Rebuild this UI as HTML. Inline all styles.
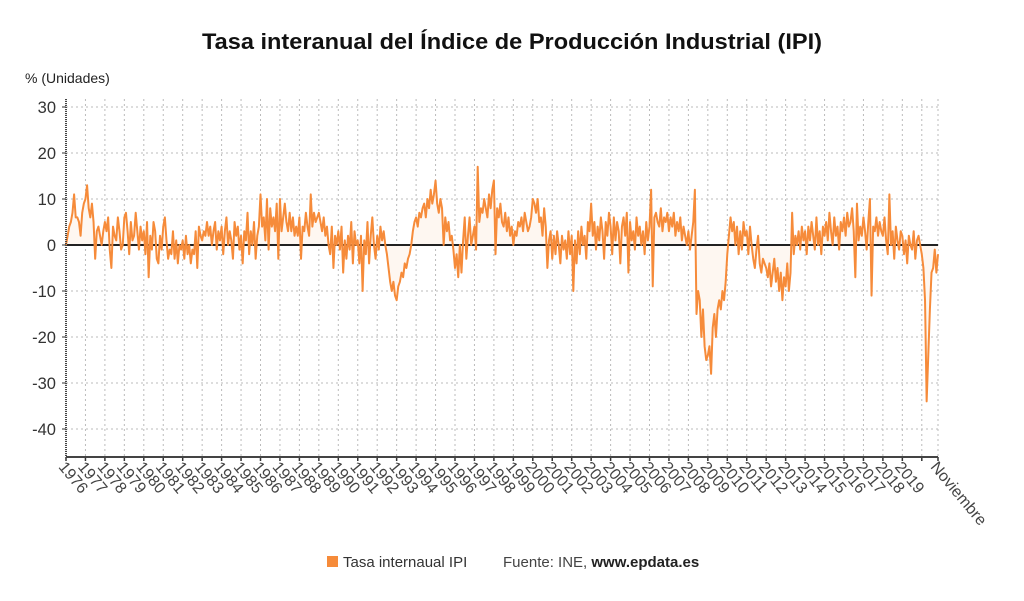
<!DOCTYPE html>
<html><head><meta charset="utf-8">
<style>
body{margin:0;background:#fff;width:1024px;height:601px;overflow:hidden;font-family:"Liberation Sans","DejaVu Sans",sans-serif;}
svg{display:block}
</style></head>
<body>
<svg id="chart" width="1024" height="601" xmlns="http://www.w3.org/2000/svg">
<text x="512" y="49" text-anchor="middle" font-size="22" font-weight="bold" fill="#111" textLength="620" lengthAdjust="spacingAndGlyphs">Tasa interanual del Índice de Producción Industrial (IPI)</text>
<text x="25" y="83" font-size="14" fill="#222">% (Unidades)</text>
<g id="grid"></g>
<g id="area"></g>
<g id="zero"></g>
<g id="series"></g>
<g id="axes"></g>
<g>
<rect x="327" y="556" width="11" height="11" fill="#f68b3a"/>
<text x="343" y="567" font-size="15" fill="#333">Tasa internaual IPI</text>
<text x="503" y="567" font-size="15" fill="#444">Fuente: INE, <tspan font-weight="bold" fill="#222">www.epdata.es</tspan></text>
</g>
</svg>
<script>
const years = [];
for (let y = 1976; y <= 2019; y++) years.push(String(y));
const endLabel = "Noviembre";
const yTicks = [30,20,10,0,-10,-20,-30,-40];
const values = [
0,2,4,5,7,11,6,6,5,2,7,9,
10,13,8,6,9,5,-3,3,4,2,0,3,
5,3,6,-1,-5,4,2,1,6,3,-1,0,
6,7,3,-2,5,1,2,7,3,-1,4,1,
3,-2,5,-7,2,-1,5,3,-3,-4,2,-1,
4,6,1,-3,-1,-2,3,-3,1,-4,0,-1,
1,-3,2,-2,0,-4,-1,-2,3,-5,4,2,
1,3,2,5,2,4,0,3,5,-1,3,1,
4,-2,3,6,0,3,1,-3,5,2,4,-1,
2,-4,3,1,7,-2,3,0,5,-3,2,4,
11,4,6,1,10,-1,8,4,6,3,9,-3,
10,3,6,9,5,3,7,3,6,2,4,2,
6,-3,4,3,7,4,2,11,4,7,5,6,
7,5,3,6,2,4,0,-2,4,-5,2,0,
3,-1,4,-6,1,-3,2,-1,5,-4,3,0,
1,-4,2,-10,1,-2,5,-4,2,6,0,-3,
2,-1,4,1,3,0,-2,-5,-8,-10,-8,-11,
-12,-9,-8,-6,-7,-4,-5,-3,-2,0,3,5,
6,4,7,6,8,9,6,10,8,12,9,11,
14,9,7,10,8,0,6,3,5,1,2,-1,
-5,-2,-7,0,-6,1,6,-3,2,6,0,2,
4,-1,17,5,8,7,10,8,6,11,8,12,
14,-2,8,6,9,5,4,7,3,6,2,4,
0,3,2,5,4,6,3,7,5,3,4,6,
10,9,7,10,5,6,2,8,4,-5,1,3,
-3,2,-2,3,0,-4,2,-1,1,-3,3,-2,
2,-10,1,-4,3,-2,4,0,2,-3,5,3,
9,2,5,-1,4,1,6,3,-3,5,2,7,
4,-2,6,1,5,3,-4,4,6,2,7,-6,
5,1,3,-1,6,2,4,0,3,-2,5,1,
4,12,-9,6,7,5,4,8,3,6,5,7,
3,6,4,7,2,5,3,6,1,4,2,0,
3,-1,2,5,12,-15,-10,-12,-20,-14,-22,-25,
-24,-22,-28,-18,-15,-20,-14,-12,-14,-10,-12,-8,
-2,2,6,3,5,0,4,-2,3,-1,5,2,
3,-2,4,0,-3,-5,-1,2,-4,-6,-3,-4,
-5,-7,-4,-9,-6,-3,-8,-5,-10,-6,-12,-7,
-9,-4,-10,-6,7,-2,2,0,3,-1,4,1,
3,-2,4,1,5,2,-1,6,0,3,-2,4,
2,5,1,7,3,0,6,2,4,-1,5,3,
6,2,7,4,5,8,3,-7,9,1,4,2,
6,3,-1,5,10,-11,4,3,6,2,5,3,
2,6,1,-2,11,0,3,-3,4,1,-1,3,
2,-2,1,-4,2,0,-1,3,-3,1,2,0,
-2,-5,-12,-34,-24,-14,-6,-5,-1,-6,-2
];
const NS='http://www.w3.org/2000/svg';
const X0=66, X1=938, YT=107, Y0=245, YB=457;
const n=values.length;
function xs(i){return X0+i*(X1-X0)/(n-1);}
function ys(v){return Y0-(v*(Y0-YT)/30);}
function mk(tag,attrs,parent){const e=document.createElementNS(NS,tag);for(const k in attrs)e.setAttribute(k,attrs[k]);parent.appendChild(e);return e;}
const grid=document.getElementById('grid'), axes=document.getElementById('axes');
yTicks.forEach(t=>{
  const g=mk('line',{x1:X0,x2:X1,y1:ys(t),y2:ys(t),stroke:'#bbb','stroke-dasharray':'2,3','stroke-width':1},grid);
  
  
  const tk=mk('line',{x1:X0-4,x2:X0,y1:ys(t),y2:ys(t),stroke:'#333','stroke-width':1},axes);
  
  
  const l=mk('text',{x:56,y:ys(t)+6,'text-anchor':'end','font-size':16.5,fill:'#333'},axes);
  l.textContent=t;
  
  
});
const xLabels=years.map((y,k)=>({i:k*12,t:y})).concat([{i:528,t:''},{i:n-1,t:endLabel}]);
xLabels.forEach(o=>{
  const x=xs(o.i);
  const g=mk('line',{x1:x,x2:x,y1:YT-8,y2:YB,stroke:'#bbb','stroke-dasharray':'2,3','stroke-width':1},grid);
  
  
  const tk=mk('line',{x1:x,x2:x,y1:YB,y2:YB+4,stroke:'#333','stroke-width':1.5},axes);
  
  
  if(o.t){
    const l=mk('text',{x:x-2,y:YB+15,'font-size':16,fill:'#444',transform:`rotate(50 ${x} ${YB+6})`},axes);
    l.textContent=o.t;
    
    
  }
});
const ax=mk('line',{x1:X0,x2:X0,y1:YT-8,y2:YB,stroke:'#444','stroke-width':2,'stroke-dasharray':'1,1'},axes);


const bx=mk('line',{x1:X0,x2:X1,y1:YB,y2:YB,stroke:'#444','stroke-width':2},axes);


let d='';values.forEach((v,i)=>{d+=(i?'L':'M')+xs(i).toFixed(2)+','+ys(v).toFixed(2);});
const ar=mk('path',{d:d+`L${xs(n-1)},${Y0}L${xs(0)},${Y0}Z`,fill:'#fef7f1',stroke:'none'},document.getElementById('area'));


const z=mk('line',{x1:X0,x2:X1,y1:Y0,y2:Y0,stroke:'#222','stroke-width':2},document.getElementById('zero'));


const p=mk('path',{d:d,fill:'none',stroke:'#f68b3a','stroke-width':2,'stroke-linejoin':'round'},document.getElementById('series'));


</script>
</body></html>
